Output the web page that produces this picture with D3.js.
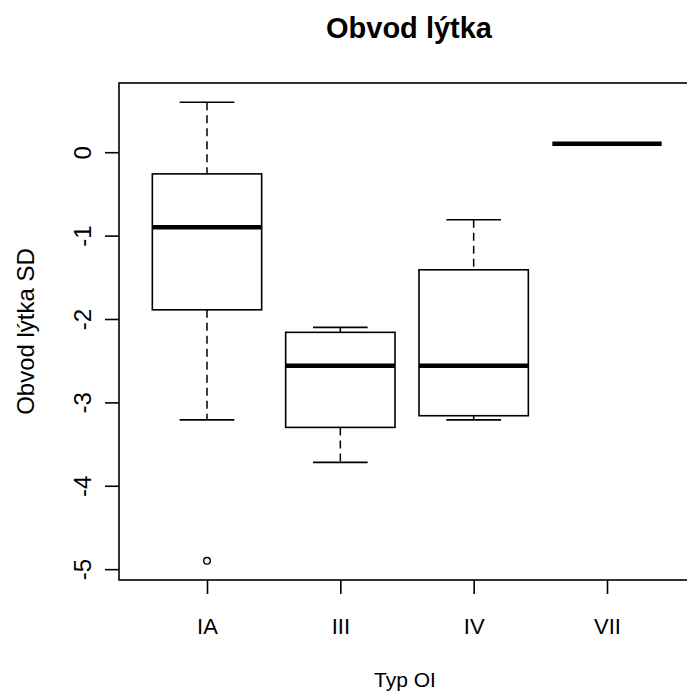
<!DOCTYPE html>
<html>
    <head>
        <meta charset="utf-8">
        <style>
          body { margin: 0; background: #fff; }
          text { font-family: "Liberation Sans", Arial, sans-serif; fill: #000; }
        </style>
    </head>
    <body>
        <svg width="687" height="698"></svg>
        <script src="https://d3js.org/d3.v7.min.js"></script>
        <script>
          // data
          var categories = ["IA", "III", "IV", "VII"];
          var lowerWhisker = [-3.21, -3.72, -3.21, 0.1];
          var q1 = [-1.89, -3.3, -3.16, 0.1];
          var median = [-0.9, -2.56, -2.56, 0.1];
          var q3 = [-0.26, -2.16, -1.41, 0.1];
          var upperWhisker = [0.6, -2.1, -0.81, 0.1];
          var outliers = [[-4.9], [], [], []];
          var yTicks = [-5, -4, -3, -2, -1, 0];

          var svg = d3.select("svg");
          var margin = {top: 83, left: 119, bottom: 118};
          var plotRight = 695; // frame continues past the window edge
          var plotBottom = +svg.attr("height") - margin.bottom;

          var x = d3.scaleLinear()
              .domain([0.34, categories.length + 0.66])
              .range([margin.left, plotRight]);

          var y = d3.scaleLinear()
              .domain([-5.13, 0.83])
              .range([plotBottom, margin.top]);

          var boxHalf = (x(1.41) - x(1)); // box width ~0.82
          var capHalf = boxHalf / 2;

          // frame
          svg.append("rect")
              .attr("x", margin.left)
              .attr("y", margin.top)
              .attr("width", plotRight - margin.left)
              .attr("height", plotBottom - margin.top)
              .attr("fill", "none")
              .attr("stroke", "#000")
              .attr("stroke-width", 1.6);

          var boxes = svg.append("g").selectAll("g")
              .data(categories)
              .join("g");

          boxes.each(function(d, i) {
              var g = d3.select(this);
              var cx = x(i + 1);

              // whiskers (dashed)
              g.append("line")
                  .attr("x1", cx).attr("x2", cx)
                  .attr("y1", y(upperWhisker[i])).attr("y2", y(q3[i]))
                  .attr("stroke", "#000").attr("stroke-width", 1.5)
                  .attr("stroke-dasharray", "8,5");
              g.append("line")
                  .attr("x1", cx).attr("x2", cx)
                  .attr("y1", y(q1[i])).attr("y2", y(lowerWhisker[i]))
                  .attr("stroke", "#000").attr("stroke-width", 1.5)
                  .attr("stroke-dasharray", "8,5");

              // caps
              [upperWhisker[i], lowerWhisker[i]].forEach(function(v) {
                  g.append("line")
                      .attr("x1", cx - capHalf).attr("x2", cx + capHalf)
                      .attr("y1", y(v)).attr("y2", y(v))
                      .attr("stroke", "#000").attr("stroke-width", 1.6);
              });

              // box
              g.append("rect")
                  .attr("x", cx - boxHalf)
                  .attr("y", y(q3[i]))
                  .attr("width", boxHalf * 2)
                  .attr("height", y(q1[i]) - y(q3[i]))
                  .attr("fill", "none")
                  .attr("stroke", "#000").attr("stroke-width", 1.6);

              // median
              g.append("line")
                  .attr("x1", cx - boxHalf).attr("x2", cx + boxHalf)
                  .attr("y1", y(median[i])).attr("y2", y(median[i]))
                  .attr("stroke", "#000").attr("stroke-width", 4.5);

              // outliers
              g.selectAll("circle")
                  .data(outliers[i])
                  .join("circle")
                  .attr("cx", cx)
                  .attr("cy", function(v) { return y(v); })
                  .attr("r", 3.3)
                  .attr("fill", "none")
                  .attr("stroke", "#000").attr("stroke-width", 1.4);
          });

          // y axis
          var yAxis = svg.append("g")
              .attr("transform", "translate(" + margin.left + ",0)")
              .call(d3.axisLeft(y).tickValues(yTicks).tickSize(14).tickPadding(0));
          yAxis.select(".domain").remove();
          yAxis.selectAll(".tick line").attr("stroke-width", 1.6);
          yAxis.selectAll(".tick text")
              .attr("x", null).attr("dy", null)
              .attr("text-anchor", "middle")
              .attr("transform", "translate(-28,0) rotate(-90)")
              .style("font-size", "24px")
              .text(function(d) { return d; });

          // x axis
          var xAxis = svg.append("g")
              .attr("transform", "translate(0," + plotBottom + ")")
              .call(d3.axisBottom(x)
                  .tickValues(d3.range(1, categories.length + 1))
                  .tickFormat(function(d) { return categories[d - 1]; })
                  .tickSize(14));
          xAxis.select(".domain").remove();
          xAxis.selectAll(".tick line").attr("stroke-width", 1.6);
          xAxis.selectAll(".tick text")
              .attr("y", 54).attr("dy", null)
              .style("font-size", "22px");

          // labels
          svg.append("text")
              .attr("x", 409).attr("y", 38)
              .attr("text-anchor", "middle")
              .style("font-size", "29px")
              .style("font-weight", "bold")
              .text("Obvod lýtka");

          svg.append("text")
              .attr("x", 405).attr("y", 687)
              .attr("text-anchor", "middle")
              .style("font-size", "21px")
              .text("Typ OI");

          svg.append("text")
              .attr("transform", "translate(34," + ((margin.top + plotBottom) / 2) + ") rotate(-90)")
              .attr("text-anchor", "middle")
              .style("font-size", "24px")
              .text("Obvod lýtka SD");
        </script>
    </body>
</html>
